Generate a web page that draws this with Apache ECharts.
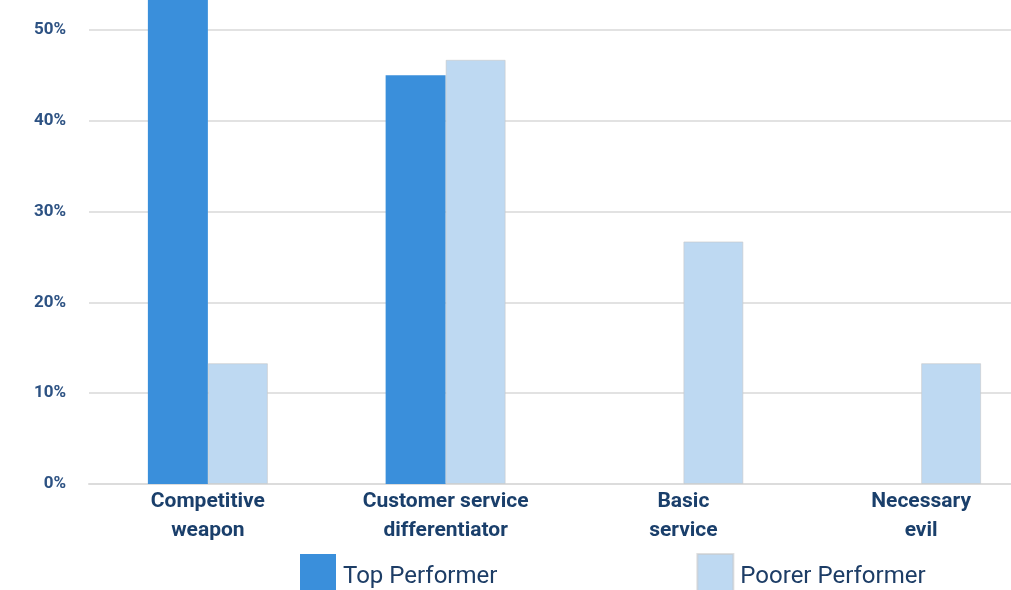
<!DOCTYPE html>
<html><head><meta charset="utf-8">
<script src="https://cdn.jsdelivr.net/npm/echarts@6/dist/echarts.min.js"></script>
<style>html,body{margin:0;padding:0;background:#fff}#c{width:1011px;height:590px}</style>
</head><body><div id="c"></div>
<script>
const categories = ['Competitive\nweapon', 'Customer service\ndifferentiator', 'Basic\nservice', 'Necessary\nevil'];
const topPerformer = [55, 45, 0, 0];
const poorerPerformer = [13.3, 46.7, 26.7, 13.3];
const seriesNames = ['Top Performer', 'Poorer Performer'];

const chart = echarts.init(document.getElementById('c'));
chart.setOption({
  animation: false,
  backgroundColor: '#ffffff',
  grid: { left: 89, right: -29, top: -61, bottom: 106, containLabel: false, outerBoundsMode: 'none' },
  legend: {
    top: 553, left: 300, padding: 0, itemWidth: 36, itemHeight: 46, itemGap: 199,
    icon: 'rect',
    textStyle: { fontFamily: 'Roboto', fontSize: 24, color: '#1d3d66', padding: [2, 0, 0, 2] },
    data: seriesNames
  },
  xAxis: {
    type: 'category', data: categories,
    axisLine: { show: true, lineStyle: { color: '#dcdcdc', width: 2 } },
    axisTick: { show: false },
    axisLabel: { fontFamily: 'Roboto', fontWeight: 'bold', fontSize: 21, color: '#1a3f6b', lineHeight: 29, margin: 3 }
  },
  yAxis: {
    type: 'value', min: 0, max: 60, interval: 10,
    axisLine: { show: false }, axisTick: { show: false },
    splitLine: { lineStyle: { color: '#e2e2e2', width: 2 } },
    axisLabel: { formatter: '{value}%', fontFamily: 'Roboto', fontWeight: 'bold', fontSize: 17, color: '#2d5283', margin: 23 }
  },
  series: [
    { name: seriesNames[0], type: 'bar', data: topPerformer, barWidth: 60, barGap: '0%',
      itemStyle: { color: '#3a8fdb' } },
    { name: seriesNames[1], type: 'bar', data: poorerPerformer, barWidth: 60,
      itemStyle: { color: '#bed9f2', borderColor: 'rgba(200,200,200,0.6)', borderWidth: 1 } }
  ]
});
</script></body></html>
